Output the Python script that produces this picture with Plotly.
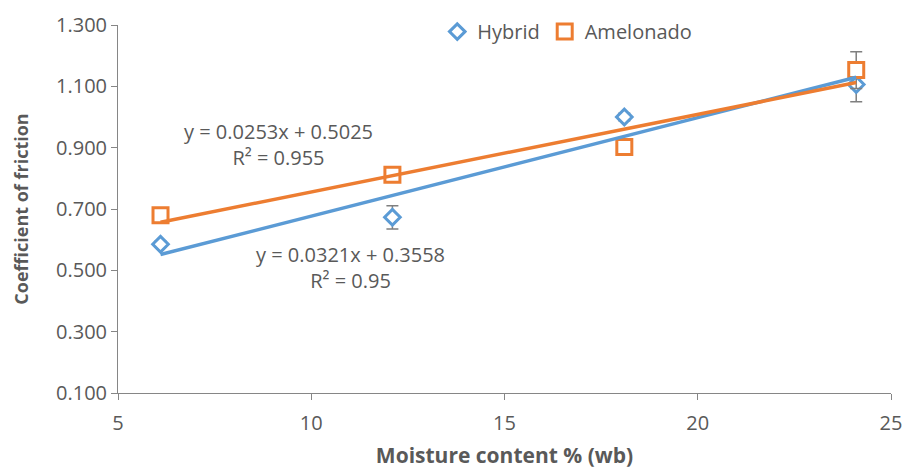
import plotly.graph_objects as go

# Moisture content levels (% wet basis)
moisture = [6.1, 12.1, 18.1, 24.1]

# Coefficient of friction, mean values and standard deviations
hybrid = [0.585, 0.673, 1.000, 1.106]
hybrid_sd = [0.010, 0.038, 0.012, 0.056]
amelonado = [0.680, 0.812, 0.902, 1.153]
amelonado_sd = [0.010, 0.010, 0.010, 0.060]

# Linear trendline coefficients (slope, intercept, R²)
hybrid_fit = (0.0321, 0.3558, 0.95)
amelonado_fit = (0.0253, 0.5025, 0.955)

x_ticks = [5, 10, 15, 20, 25]
y_ticks = [0.1, 0.3, 0.5, 0.7, 0.9, 1.1, 1.3]

BLUE = "#5B9BD5"
ORANGE = "#ED7D31"
GREY_TEXT = "#595959"
AXIS = "#868686"
FONT = "Open Sans"

fig = go.Figure()

# Data points with error bars (white-filled markers)
fig.add_trace(go.Scatter(
    x=moisture, y=hybrid, mode="markers", name="Hybrid",
    marker=dict(symbol="diamond", size=12, color="white",
                line=dict(color=BLUE, width=3)),
    error_y=dict(type="data", array=hybrid_sd, visible=True,
                 color="#7F7F7F", thickness=1.5, width=6),
))
fig.add_trace(go.Scatter(
    x=moisture, y=amelonado, mode="markers", name="Amelonado",
    marker=dict(symbol="square", size=15, color="white",
                line=dict(color=ORANGE, width=3)),
    error_y=dict(type="data", array=amelonado_sd, visible=True,
                 color="#7F7F7F", thickness=1.5, width=6),
))

# Trendlines drawn from the fitted equations
x_line = [moisture[0], moisture[-1]]
for (m, b, r2), col in [(hybrid_fit, BLUE), (amelonado_fit, ORANGE)]:
    fig.add_trace(go.Scatter(
        x=x_line, y=[m * xv + b for xv in x_line], mode="lines",
        line=dict(color=col, width=3.5), showlegend=False, hoverinfo="skip",
    ))


def eq_text(fit):
    m, b, r2 = fit
    return f"y = {m:.4f}x + {b:.4f}<br>R² = {r2:g}"


fig.add_annotation(x=9.14, y=0.911, xref="x", yref="y", text=eq_text(amelonado_fit),
                   showarrow=False, align="center",
                   font=dict(family=FONT, size=20, color=GREY_TEXT))
fig.add_annotation(x=11.01, y=0.509, xref="x", yref="y", text=eq_text(hybrid_fit),
                   showarrow=False, align="center",
                   font=dict(family=FONT, size=20, color=GREY_TEXT))

fig.update_layout(
    width=905, height=469,
    margin=dict(l=118, r=14, t=22, b=76),
    paper_bgcolor="white", plot_bgcolor="white",
    font=dict(family=FONT, size=20, color=GREY_TEXT),
    legend=dict(orientation="h", x=0.413, y=1.035, xanchor="left", yanchor="top",
                font=dict(family=FONT, size=20, color=GREY_TEXT),
                bgcolor="rgba(0,0,0,0)", itemwidth=30),
    xaxis=dict(range=[5, 25], tickvals=x_ticks, showgrid=False, zeroline=False,
               showline=True, linecolor=AXIS, linewidth=1, automargin=False,
               ticks="outside", ticklen=6, tickcolor=AXIS, ticklabelstandoff=6,
               tickfont=dict(family=FONT, size=20, color=GREY_TEXT),
               title=dict(text="<b>Moisture content % (wb)</b>", standoff=14,
                          font=dict(family=FONT, size=21, color=GREY_TEXT))),
    yaxis=dict(range=[0.1, 1.3], tickvals=y_ticks, tickformat=".3f",
               showgrid=False, zeroline=False, automargin=False,
               showline=True, linecolor=AXIS, linewidth=1,
               ticks="outside", ticklen=6, tickcolor=AXIS,
               tickfont=dict(family=FONT, size=20, color=GREY_TEXT),
               title=dict(text="<b>Coefficient of friction</b>", standoff=22,
                          font=dict(family=FONT, size=18, color=GREY_TEXT))),
)

fig.write_html("out.html")
